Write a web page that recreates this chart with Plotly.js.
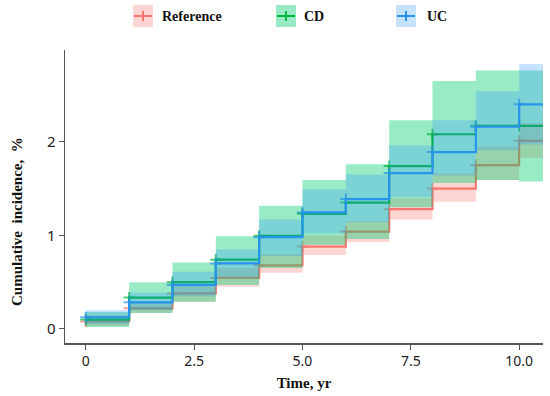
<!DOCTYPE html>
<html>
<head>
<meta charset="utf-8">
<script src="https://cdn.plot.ly/plotly-3.0.1.min.js"></script>
<style>html,body{margin:0;padding:0;background:#fff;}#chart{width:550px;height:396px;}</style>
</head>
<body>
<div id="chart"></div>
<script>
// ---- data ----
var years = [0, 1, 2, 3, 4, 5, 6, 7, 8, 9, 10];
var groups = ['Reference', 'CD', 'UC'];

var refEst   = [0.08, 0.22, 0.38, 0.545, 0.68, 0.88, 1.04, 1.28, 1.50, 1.75, 2.01];
var refLow   = [0.03, 0.17, 0.29, 0.45, 0.60, 0.79, 0.93, 1.17, 1.36, 1.59, 1.83];
var refHigh  = [0.15, 0.30, 0.48, 0.65, 0.80, 1.00, 1.15, 1.40, 1.66, 1.95, 2.20];

var cdEst    = [0.10, 0.335, 0.50, 0.74, 0.995, 1.23, 1.35, 1.74, 2.08, 2.17, 2.17];
var cdLow    = [0.02, 0.17, 0.29, 0.47, 0.65, 0.90, 0.96, 1.30, 1.56, 1.59, 1.575];
var cdHigh   = [0.18, 0.50, 0.71, 0.99, 1.315, 1.59, 1.76, 2.23, 2.65, 2.76, 2.76];

var ucEst    = [0.125, 0.285, 0.47, 0.70, 0.98, 1.245, 1.387, 1.665, 1.89, 2.16, 2.40];
var ucLow    = [0.05, 0.20, 0.35, 0.55, 0.78, 1.02, 1.14, 1.41, 1.64, 1.91, 1.97];
var ucHigh   = [0.20, 0.39, 0.61, 0.85, 1.17, 1.49, 1.65, 1.96, 2.23, 2.54, 2.83];

var xTickVals = [0, 2.5, 5, 7.5, 10];
var xTickText = ['0', '2.5', '5.0', '7.5', '10.0'];
var yTickVals = [0, 1, 2];
var yTickText = ['0', '1', '2'];

// ---- styles ----
var lineColors = ['#F8766D', '#00B53A', '#2794EB'];
var bandColors = ['rgba(248,118,109,0.30)', 'rgba(0,205,110,0.40)', 'rgba(50,150,255,0.28)'];
var xMax = 10.55;

var series = [
  {est: refEst, low: refLow, high: refHigh},
  {est: cdEst, low: cdLow, high: cdHigh},
  {est: ucEst, low: ucLow, high: ucHigh}
];

function ext(arr) { return arr.concat([arr[arr.length - 1]]); }
var xs = years.concat([xMax]);

var traces = [];
series.forEach(function (s, i) {
  traces.push({x: xs, y: ext(s.low), mode: 'lines', line: {shape: 'hv', width: 0, color: 'rgba(0,0,0,0)'},
    showlegend: false, hoverinfo: 'skip'});
  traces.push({x: xs, y: ext(s.high), mode: 'lines', line: {shape: 'hv', width: 0, color: 'rgba(0,0,0,0)'},
    fill: 'tonexty', fillcolor: bandColors[i], showlegend: false, hoverinfo: 'skip'});
  var sizes = years.map(function () { return 8; }).concat([0]);
  traces.push({x: xs, y: ext(s.est), mode: 'lines+markers', name: groups[i],
    line: {shape: 'hv', width: 2.2, color: lineColors[i]},
    marker: {symbol: 'cross-thin', size: sizes, line: {width: 2, color: lineColors[i]}, color: lineColors[i]},
    showlegend: false});
});

// legend (manual)
var L = 65, R = 7, T = 50, B = 53, W = 550, H = 396;
function px2x(p) { return (p - L) / (W - L - R); }
function py2y(p) { return (H - B - p) / (H - T - B); }
var legendX = [133, 276, 396];
var legendTextX = [160, 302, 425];
var shapes = [], annotations = [];
groups.forEach(function (g, i) {
  var x0 = legendX[i];
  shapes.push({type: 'rect', xref: 'paper', yref: 'paper', x0: px2x(x0), x1: px2x(x0 + 20), y0: py2y(27), y1: py2y(5),
    fillcolor: bandColors[i], line: {width: 0}});
  shapes.push({type: 'line', xref: 'paper', yref: 'paper', x0: px2x(x0 + 1), x1: px2x(x0 + 19), y0: py2y(16), y1: py2y(16),
    line: {color: lineColors[i], width: 2}});
  shapes.push({type: 'line', xref: 'paper', yref: 'paper', x0: px2x(x0 + 10), x1: px2x(x0 + 10), y0: py2y(11), y1: py2y(21),
    line: {color: lineColors[i], width: 2}});
  annotations.push({xref: 'paper', yref: 'paper', x: px2x(legendTextX[i]), y: py2y(16), xanchor: 'left', yanchor: 'middle',
    text: '<b>' + g + '</b>', showarrow: false,
    font: {family: 'Liberation Serif, Times New Roman, serif', size: 14, color: '#111'}});
});
annotations.push({xref: 'paper', yref: 'paper', x: px2x(17), y: py2y(222), xanchor: 'center', yanchor: 'middle',
  textangle: -90, text: '<b>Cumulative&nbsp; incidence,&nbsp; %</b>', showarrow: false,
  font: {family: 'Liberation Serif, Times New Roman, serif', size: 15, color: '#111'}});

var layout = {
  width: W, height: H,
  margin: {l: L, r: R, t: T, b: B, pad: 0},
  paper_bgcolor: '#fff', plot_bgcolor: '#fff',
  showlegend: false,
  xaxis: {range: [-0.48, xMax], tickvals: xTickVals, ticktext: xTickText, showgrid: false, zeroline: false,
    showline: true, linecolor: '#555', linewidth: 1.5, ticks: 'outside', ticklen: 5, tickcolor: '#555', tickwidth: 1,
    tickfont: {family: 'Noto Sans, Open Sans, sans-serif', size: 14, color: '#222'},
    title: {text: '<b>Time, yr</b>', standoff: 8, font: {family: 'Liberation Serif, Times New Roman, serif', size: 15, color: '#111'}}},
  yaxis: {range: [-0.15, 2.98], tickvals: yTickVals, ticktext: yTickText, showgrid: false, zeroline: false,
    showline: true, linecolor: '#555', linewidth: 1.5, ticks: 'outside', ticklen: 5, tickcolor: '#555', tickwidth: 1,
    tickfont: {family: 'Noto Sans, Open Sans, sans-serif', size: 15, color: '#222'}},
  shapes: shapes,
  annotations: annotations
};

Plotly.newPlot('chart', traces, layout, {displayModeBar: false, staticPlot: true});
</script>
</body>
</html>
